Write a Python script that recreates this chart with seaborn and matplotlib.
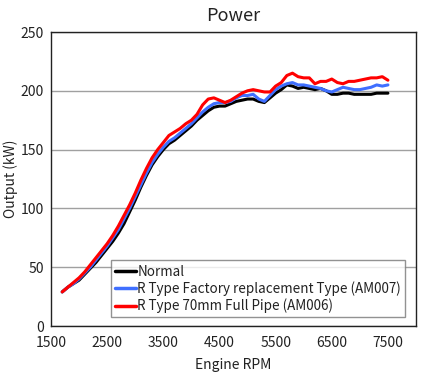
import matplotlib
matplotlib.use("Agg")
import matplotlib.pyplot as plt
import seaborn as sns
import pandas as pd

rpm = list(range(1700, 7501, 100))

normal = [29, 33, 36, 39, 44, 49, 54, 60, 66, 72, 79, 87, 97, 107, 118, 128, 137, 144, 150, 155,
          158, 162, 166, 170, 175, 179, 183, 186, 187, 187, 189, 191, 192, 193, 193, 191, 190, 194, 198, 201,
          205, 204, 202, 203, 202, 201, 202, 200, 197, 197, 198, 198, 197, 197, 197, 197, 198, 198, 198]

am007 = [29, 33, 36, 40, 45, 50, 56, 62, 68, 75, 82, 91, 100, 110, 120, 130, 139, 146, 152, 157,
         160, 164, 168, 172, 177, 182, 186, 189, 190, 190, 191, 194, 196, 196, 197, 193, 191, 196, 201, 204,
         206, 207, 205, 205, 204, 203, 202, 200, 199, 201, 203, 202, 201, 201, 202, 203, 205, 204, 205]

am006 = [29, 33, 37, 41, 46, 52, 58, 64, 70, 77, 85, 94, 103, 113, 124, 134, 143, 150, 156, 162,
         165, 168, 172, 175, 180, 188, 193, 194, 192, 190, 192, 195, 198, 200, 201, 200, 199, 199, 204, 207,
         213, 215, 212, 211, 211, 206, 208, 208, 210, 207, 206, 208, 208, 209, 210, 211, 211, 212, 209]

labels = ["Normal", "R Type Factory replacement Type (AM007)", "R Type 70mm Full Pipe (AM006)"]
colors = ["#000000", "#3f6fff", "#ff0000"]

frames = []
for lab, vals in zip(labels, [normal, am007, am006]):
    frames.append(pd.DataFrame({"rpm": rpm, "kw": vals, "series": lab}))
df = pd.concat(frames, ignore_index=True)

sns.set_style("white")
plt.rcParams["font.family"] = ["Noto Sans CJK JP", "DejaVu Sans"]

fig = plt.figure(figsize=(4.30, 3.76), dpi=100)
ax = fig.add_axes([51/430, 50/376, 365/430, 294/376])

sns.lineplot(data=df, x="rpm", y="kw", hue="series", palette=colors, hue_order=labels,
             linewidth=2.2, ax=ax)

ax.set_xlim(1500, 8000)
ax.set_ylim(0, 250)
ax.set_xticks([1500, 2500, 3500, 4500, 5500, 6500, 7500])
ax.set_yticks([0, 50, 100, 150, 200, 250])
ax.yaxis.grid(True, color="#a0a0a0", linewidth=1)
ax.xaxis.grid(False)
ax.set_axisbelow(True)
ax.tick_params(axis="x", direction="in", length=4, color="#b0b0b0", labelsize=10, pad=7, labelcolor="#222222")
ax.tick_params(axis="y", length=0, labelsize=10, pad=5, labelcolor="#222222")
for s in ax.spines.values():
    s.set_color("#222222")
    s.set_linewidth(1)

ax.set_title("Power", fontsize=13, color="#222222", pad=8)
ax.set_xlabel("Engine RPM", fontsize=10, color="#222222", labelpad=6)
ax.set_ylabel("Output (kW)", fontsize=10, color="#222222")
ax.yaxis.set_label_coords(-0.09, 0.5)

leg = ax.legend(loc="lower right", bbox_to_anchor=(0.978, 0.02), frameon=True, fancybox=False,
                fontsize=9.7, handlelength=1.6, handletextpad=0.1, borderpad=0.3,
                labelspacing=0.2, borderaxespad=0.2)
leg.get_frame().set_edgecolor("#777777")
leg.get_frame().set_linewidth(1)
for line in leg.get_lines():
    line.set_linewidth(2.5)
for t in leg.get_texts():
    t.set_color("#222222")

fig.savefig("out.png", dpi=100)
